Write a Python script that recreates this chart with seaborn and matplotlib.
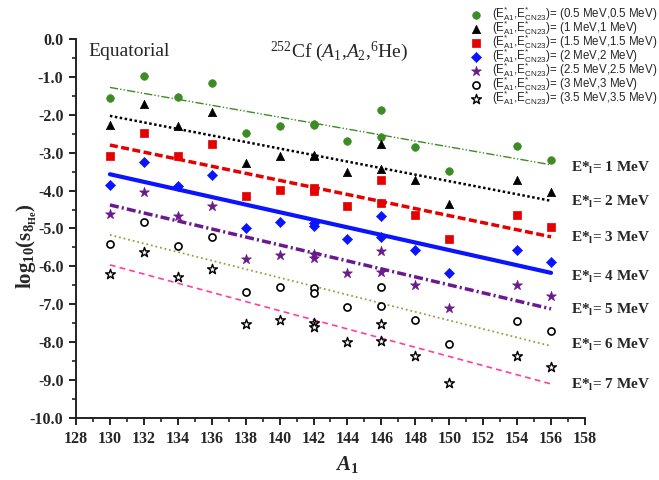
import numpy as np
import pandas as pd
import matplotlib
matplotlib.use("Agg")
import matplotlib.pyplot as plt
from matplotlib.ticker import MultipleLocator, FormatStrFormatter
import seaborn as sns

# A1 positions shared by all seven series
a1 = [130, 132, 134, 136, 138, 140, 142, 142, 144, 146, 146, 148, 150, 154, 156]

s_05 = [-1.55, -0.97, -1.54, -1.16, -2.49, -2.31, -2.24, -2.27, -2.68, -1.87, -2.58, -2.84, -3.48, -2.82, -3.19]
s_10 = [-2.28, -1.71, -2.29, -1.94, -3.28, -3.10, -3.05, -3.10, -3.50, -2.77, -3.44, -3.72, -4.36, -3.72, -4.05]
s_15 = [-3.08, -2.49, -3.08, -2.77, -4.14, -3.98, -3.94, -4.02, -4.41, -3.72, -4.34, -4.64, -5.28, -4.64, -4.97]
s_20 = [-3.85, -3.26, -3.87, -3.59, -4.98, -4.84, -4.86, -4.93, -5.29, -4.67, -5.22, -5.57, -6.18, -5.57, -5.88]
s_25 = [-4.62, -4.03, -4.66, -4.41, -5.81, -5.69, -5.67, -5.79, -6.18, -5.59, -6.14, -6.48, -7.11, -6.49, -6.78]
s_30 = [-5.41, -4.82, -5.46, -5.23, -6.68, -6.55, -6.58, -6.70, -7.08, -6.54, -7.04, -7.41, -8.05, -7.43, -7.70]
s_35 = [-6.20, -5.62, -6.27, -6.07, -7.53, -7.41, -7.48, -7.61, -8.00, -7.53, -7.97, -8.36, -9.07, -8.36, -8.65]
series_vals = [s_05, s_10, s_15, s_20, s_25, s_30, s_35]

energy_pairs = ["0.5 MeV,0.5 MeV", "1 MeV,1 MeV", "1.5 MeV,1.5 MeV", "2 MeV,2 MeV",
                "2.5 MeV,2.5 MeV", "3 MeV,3 MeV", "3.5 MeV,3.5 MeV"]

# straight fit lines (value at A1=130 and at A1=156)
fit_x = [130, 156]
fit_start = [-1.28, -2.03, -2.80, -3.57, -4.38, -5.17, -5.96]
fit_end = [-3.32, -4.27, -5.22, -6.17, -7.12, -8.10, -9.10]

level_labels = ["1 MeV", "2 MeV", "3 MeV", "4 MeV", "5 MeV", "6 MeV", "7 MeV"]
level_y = [-3.40, -4.29, -5.26, -6.27, -7.15, -8.07, -9.13]

sns.set_style("ticks")
plt.rcParams['font.family'] = ['Liberation Serif', 'DejaVu Serif']
plt.rcParams['axes.unicode_minus'] = False
plt.rcParams['mathtext.fontset'] = 'custom'
plt.rcParams['mathtext.rm'] = 'Liberation Serif'
plt.rcParams['mathtext.it'] = 'Liberation Serif:italic'
plt.rcParams['mathtext.bf'] = 'Liberation Serif:bold'
plt.rcParams['mathtext.bfit'] = 'Liberation Serif:bold:italic'
plt.rcParams['mathtext.sf'] = 'Liberation Sans'

# marker styles: (marker, face, edge, size, edge width)
marker_styles = [
    ('o', '#3d8b24', '#3d8b24', 30, 0.5),
    ('^', 'black', 'black', 36, 0.5),
    ('s', '#e60000', '#e60000', 26, 0.5),
    ('D', '#0a14ff', '#0a14ff', 26, 0.5),
    ('*', '#6a1a8c', '#6a1a8c', 55, 0.5),
    ('o', 'white', 'black', 26, 1.2),
    ('*', 'white', 'black', 55, 1.0),
]
# line styles: (colour, linestyle, width)
line_styles = [
    ('#3d8b24', (0, (6, 1.5, 1, 1.5, 1, 1.5)), 1.0),
    ('black', (0, (1, 1)), 1.8),
    ('#e60000', (0, (2.3, 1.0)), 2.5),
    ('#0a14ff', '-', 3.0),
    ('#6a1a8c', (0, (2.6, 0.9, 0.6, 0.9)), 2.5),
    ('#9ba040', (0, (1, 1.6)), 1.3),
    ('#ff3fa0', (0, (3.5, 2.5)), 1.2),
]

fig = plt.figure(figsize=(6.59, 4.8), dpi=100)
ax = fig.add_axes([0.1153, 0.129, 0.7724, 0.790])

for i, vals in enumerate(series_vals):
    c, ls, lw = line_styles[i]
    sns.lineplot(x=fit_x, y=[fit_start[i], fit_end[i]], color=c, linestyle=ls,
                 linewidth=lw, ax=ax, legend=False, zorder=2)

for i, vals in enumerate(series_vals):
    m, fc, ec, s, elw = marker_styles[i]
    df = pd.DataFrame({'A1': a1, 'val': vals})
    lab = r'(E$^{\mathsf{*}}_{\mathsf{A1}}$,E$^{\mathsf{*}}_{\mathsf{CN23}}$)= (' + energy_pairs[i] + ')'
    sns.scatterplot(data=df, x='A1', y='val', marker=m, color=fc, edgecolor=ec,
                    s=s, linewidth=elw, ax=ax, label=lab, zorder=3)

ax.set_xlim(128, 158)
ax.set_ylim(-10, 0)
ax.xaxis.set_major_locator(MultipleLocator(2))
ax.xaxis.set_minor_locator(MultipleLocator(1))
ax.yaxis.set_major_locator(MultipleLocator(1))
ax.yaxis.set_minor_locator(MultipleLocator(0.5))
ax.yaxis.set_major_formatter(FormatStrFormatter('%.1f'))
sns.despine(ax=ax)
for sp in ['left', 'bottom']:
    ax.spines[sp].set_linewidth(1.4)
    ax.spines[sp].set_color('#222222')
ax.tick_params(which='major', direction='out', length=5, width=1.4, pad=4,
               labelsize=11.5, color='#222222')
ax.tick_params(which='minor', direction='out', length=3, width=1.2, color='#222222')
for lbl in ax.get_xticklabels() + ax.get_yticklabels():
    lbl.set_fontweight('bold')

ax.set_xlabel(r'$\mathbfit{A}_{\mathbf{1}}$', fontsize=15)
ax.xaxis.set_label_coords(0.532, -0.095)
ax.set_ylabel(r'$\mathbf{log_{10}(s_{8_{He}})}$', fontsize=15)
ax.yaxis.set_label_coords(-0.072, 0.455)

ax.text(0.024, 0.966, 'Equatorial', transform=ax.transAxes, fontsize=14,
        ha='left', va='center')
ax.text(0.382, 0.966, r'$^{252}$Cf ($A_1$,$A_2$,$^{6}$He)', transform=ax.transAxes,
        fontsize=14, ha='left', va='center')

for lab, yv in zip(level_labels, level_y):
    ax.text(157.2, yv, r'E*$_{\mathbf{l}}$= ' + lab, fontsize=11, fontweight='bold',
            ha='left', va='center', clip_on=False)

ax.legend(loc='upper left', bbox_to_anchor=(0.710, 0.995), bbox_transform=fig.transFigure,
          frameon=False, prop={'family': 'Liberation Sans', 'size': 8.3},
          handlelength=1.0, handletextpad=0.89, labelspacing=-0.34, borderpad=0.2,
          borderaxespad=0)

fig.savefig('out.png', dpi=100)
